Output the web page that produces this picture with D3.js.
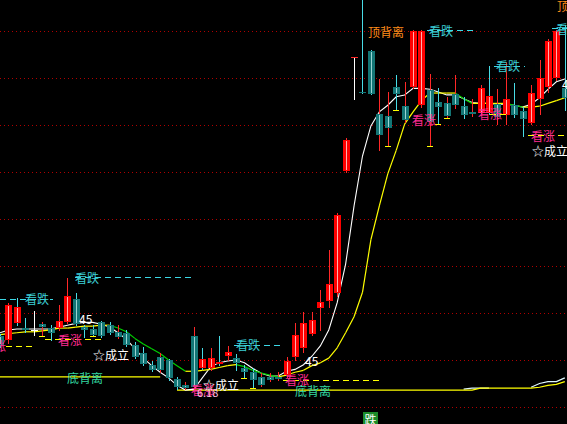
<!DOCTYPE html>
<html lang="zh">
<head>
<meta charset="UTF-8">
<title>K线 - 背离信号</title>
<script src="https://cdn.jsdelivr.net/npm/d3@7/dist/d3.min.js"></script>
<style>
  html, body { margin: 0; padding: 0; background: #000; }
  svg { display: block; }
</style>
</head>
<body>
<script>
  var width = 567, height = 424;

  // 日K: 开 / 高 / 低 / 收
  var open = [6.76, 6.71, 6.89, 6.84, 6.82, 6.88, 6.84, 6.84, 6.90, 7.15,
              6.85, 6.83, 6.90, 6.87, 6.80, 6.79, 6.66, 6.57, 6.45, 6.53,
              6.50, 6.30, 6.23, 6.76, 6.41, 6.41, 6.46, 6.54, 6.52, 6.41,
              6.37, 6.32, 6.32, 6.32, 6.34, 6.53, 6.63, 6.78, 7.05, 7.13,
              7.21, 8.51, 9.72, 9.35, 9.79, 9.12, 9.10, 9.40, 9.20, 9.40,
              9.21, 9.37, 9.24, 9.23, 9.33, 9.20, 9.14, 9.13, 9.13, 9.22,
              9.11, 9.21, 9.15, 9.02, 9.28, 9.40, 9.50, 9.39];
  var high = [6.78, 7.11, 7.16, 6.95, 7.02, 6.90, 6.87, 7.09, 7.37, 7.21,
              6.87, 6.87, 6.91, 6.90, 6.87, 6.82, 6.69, 6.64, 6.49, 6.57,
              6.51, 6.32, 6.27, 6.85, 6.63, 6.63, 6.76, 6.65, 6.56, 6.45,
              6.41, 6.36, 6.36, 6.37, 6.53, 6.89, 7.01, 7.01, 7.24, 7.67,
              8.06, 8.86, 9.72, 10.40, 9.80, 9.49, 9.35, 9.53, 9.46, 10.01,
              10.01, 9.54, 9.39, 9.30, 9.53, 9.30, 9.28, 9.43, 9.63, 9.38,
              9.67, 9.45, 9.19, 9.43, 9.69, 9.91, 10.01, 10.06];
  var low = [6.64, 6.68, 6.87, 6.80, 6.77, 6.76, 6.71, 6.82, 6.89, 6.87,
             6.74, 6.76, 6.75, 6.78, 6.73, 6.65, 6.52, 6.45, 6.38, 6.37,
             6.29, 6.19, 6.19, 6.18, 6.40, 6.39, 6.45, 6.50, 6.39, 6.31,
             6.20, 6.22, 6.28, 6.29, 6.32, 6.50, 6.59, 6.77, 6.82, 7.06,
             7.18, 8.50, 9.28, 9.34, 9.33, 8.73, 8.78, 9.16, 9.03, 9.39,
             9.19, 8.78, 9.01, 9.07, 9.18, 9.07, 9.10, 9.11, 9.12, 9.01,
             9.01, 9.09, 8.88, 9.01, 9.12, 9.35, 9.48, 9.16];
  var close = [6.66, 7.09, 7.06, 6.82, 6.82, 6.85, 6.79, 6.91, 7.18, 6.88,
               6.82, 6.77, 6.76, 6.79, 6.75, 6.66, 6.53, 6.46, 6.39, 6.39,
               6.31, 6.21, 6.20, 6.21, 6.51, 6.52, 6.48, 6.59, 6.47, 6.37,
               6.29, 6.23, 6.29, 6.30, 6.49, 6.77, 6.89, 6.93, 7.12, 7.31,
               8.04, 8.84, 9.72, 9.34, 9.33, 8.89, 8.97, 9.33, 9.05, 10.00,
               10.00, 9.03, 9.19, 9.10, 9.21, 9.11, 9.12, 9.39, 9.31, 9.09,
               9.28, 9.11, 9.06, 9.34, 9.50, 9.89, 10.00, 9.29];
  // 当日涨跌 (影线颜色): 1涨 -1跌 0平
  var dayChg = [-1, 1, -1, -1, 0, 1, -1, 1, 1, -1,
                -1, -1, -1, -1, 1, -1, -1, -1, -1, 1,
                -1, -1, 1, 1, -1, 1, -1, 1, -1, -1,
                -1, 1, 1, 1, 1, 1, 1, 1, 1, 1,
                1, 1, 1, -1, -1, 1, 1, -1, 1, 1,
                1, 1, -1, 1, 1, -1, 1, 1, -1, 1,
                1, -1, -1, 1, 1, 1, 1, -1];

  // 白线 (短均线)
  var maFast = [6.79, 6.82, 6.83, 6.83, 6.83, 6.83, 6.83, 6.85, 6.87, 6.89,
                6.90, 6.90, 6.88, 6.85, 6.79, 6.72, 6.62, 6.52, 6.44, 6.37,
                6.31, 6.23, 6.18, 6.19, 6.31, 6.43, 6.47, 6.49, 6.50, 6.47,
                6.41, 6.36, 6.33, 6.33, 6.38, 6.40, 6.45, 6.54, 6.65, 6.82,
                7.11, 7.52, 8.14, 8.67, 8.99, 9.14, 9.21, 9.30, 9.32, 9.39,
                9.39, 9.38, 9.35, 9.32, 9.32, 9.28, 9.24, 9.23, 9.23, 9.22,
                9.22, 9.21, 9.19, 9.22, 9.29, 9.38, 9.46, 9.49];
  // 黄线 (长均线, 下行时为绿)
  var maSlow = [6.77, 6.78, 6.79, 6.80, 6.80, 6.81, 6.82, 6.84, 6.84, 6.85,
                6.86, 6.86, 6.87, 6.87, 6.84, 6.80, 6.73, 6.67, 6.62, 6.57,
                6.50, 6.44, 6.38, 6.38, 6.39, 6.40, 6.42, 6.44, 6.45, 6.43,
                6.39, 6.36, 6.34, 6.32, 6.34, 6.37, 6.39, 6.44, 6.47, 6.52,
                6.63, 6.79, 6.96, 7.22, 7.78, 8.14, 8.48, 8.73, 9.01, 9.14,
                9.26, 9.34, 9.34, 9.34, 9.34, 9.28, 9.23, 9.23, 9.23, 9.23,
                9.23, 9.21, 9.19, 9.19, 9.20, 9.23, 9.26, 9.29];
  // 底部支撑线
  var supportY = [6.32, 6.32, 6.32, 6.32, 6.32, 6.32, 6.32, 6.32, 6.32, 6.32,
                  6.32, 6.32, 6.32, 6.32, 6.32, 6.32, 6.32, 6.32, 6.32, 6.32,
                  null, 6.18, 6.18, 6.18, 6.18, 6.18, 6.18, 6.18, 6.18, 6.18,
                  6.18, 6.18, 6.18, 6.18, 6.18, 6.18, 6.18, 6.18, 6.18, 6.18,
                  6.18, 6.18, 6.18, 6.18, 6.18, 6.18, 6.18, 6.18, 6.18, 6.18,
                  6.18, 6.18, 6.18, 6.18, 6.18, 6.18, 6.18, 6.20, 6.20, 6.20,
                  6.20, 6.20, 6.20, 6.20, 6.21, 6.23, 6.24, 6.27];
  var supportW = [[55, 6.19], [56, 6.20], [57, 6.20], [58, 6.20],
                  [63, 6.21], [64, 6.25], [65, 6.27], [66, 6.27], [67, 6.31]];

  var gridPrices = [6, 6.5, 7, 7.5, 8, 8.5, 9, 9.5, 10];

  // 信号标注: [位置, 价格, 虚线起, 虚线止]
  var bearTags = [[2.97, 7.15, 0, 6.3], [8.9, 7.38, 8.9, 23], [28.0, 6.66, 27.7, 33.5],
                  [50.9, 10.01, 50.65, 56.35], [58.85, 9.63, 58.6, 62.3], [65.95, 10.03, 65.5, 67.4]];
  var bullTags = [[-2.14, 6.65, 0.7, 4.15], [6.88, 6.72, 5.3, 12.45], [22.66, 6.19, null, null],
                  [33.8, 6.29, 33.57, 45.3], [48.87, 9.06, null, null], [56.7, 9.12, 58.1, 60.4],
                  [63.0, 8.89, 62.6, 67.4]];
  var okTags = [[11.03, 6.56], [24.08, 6.24], [63.1, 8.73]];
  var angleTags = [[9.37, 6.94], [36.18, 6.49], [66.67, 9.44]];
  var topDivTags = [[43.65, 9.99], [66.07, 10.27]];
  var botDivTags = [[7.95, 6.31], [35.0, 6.18]];
  var lowTicks = [5, 11, 29, 30, 46, 47, 51, 52, 53];
  var sellMarks = [44];

  var svg = d3.select("body").append("svg")
      .attr("width", width).attr("height", height)
      .style("background", "#000");

  var x = d3.scaleLinear().domain([0, 67]).range([0, 564.8]);
  var y = d3.scaleLinear().domain([6, 10]).range([407, 31]);
  var bw = 7;
  var font = "'Noto Sans CJK SC', sans-serif";

  function cx(i) { return Math.round(x(i)) + 0.5; }
  function cy(p) { return Math.round(y(p)) + 0.5; }

  // 网格
  svg.append("g").selectAll("line").data(gridPrices).enter().append("line")
      .attr("x1", 0).attr("x2", width)
      .attr("y1", cy).attr("y2", cy)
      .attr("stroke", "#b00000")
      .attr("stroke-dasharray", "1,3")
      .attr("shape-rendering", "crispEdges");

  // 底部线
  var wPts = new Array(open.length).fill(null);
  supportW.forEach(function(d) { wPts[d[0]] = d[1]; });
  var line = d3.line().defined(function(d) { return d != null; })
      .x(function(d, i) { return x(i); }).y(function(d) { return y(d); });
  svg.append("path").attr("d", line(wPts)).attr("fill", "none")
      .attr("stroke", "#dff8ff").attr("stroke-width", 1.2);
  svg.append("path").attr("d", line(supportY)).attr("fill", "none")
      .attr("stroke", "#ffff00").attr("stroke-width", 1.2);

  // 均线
  svg.append("path").attr("d", line(maFast)).attr("fill", "none")
      .attr("stroke", "#ffffff").attr("stroke-width", 1.1);
  svg.append("g").selectAll("line").data(d3.pairs(d3.range(maSlow.length))).enter().append("line")
      .attr("x1", function(d) { return x(d[0]); })
      .attr("x2", function(d) { return x(d[1]); })
      .attr("y1", function(d) { return y(maSlow[d[0]]); })
      .attr("y2", function(d) { return y(maSlow[d[1]]); })
      .attr("stroke", function(d) { return maSlow[d[1]] < maSlow[d[0]] ? "#00d000" : "#ffff00"; })
      .attr("stroke-width", 1.2);

  // K线
  var upBody = "#ff0000", dnBody = "#137676";
  var chgColor = { "1": "#ff2828", "-1": "#48dce6", "0": "#ffffff" };
  var k = svg.append("g").selectAll("g").data(d3.range(open.length)).enter().append("g");
  k.each(function(i) {
    var g = d3.select(this);
    var o = open[i], c = close[i];
    var doji = o === c;
    g.append("line")
        .attr("x1", cx(i)).attr("x2", cx(i))
        .attr("y1", Math.round(y(high[i]))).attr("y2", Math.round(y(low[i])) + 1)
        .attr("stroke", doji ? "#ffffff" : chgColor[dayChg[i]])
        .attr("shape-rendering", "crispEdges");
    if (doji) {
      g.append("line")
          .attr("x1", cx(i) - 3.5).attr("x2", cx(i) + 3.5)
          .attr("y1", cy(o)).attr("y2", cy(o))
          .attr("stroke", chgColor[dayChg[i]])
          .attr("shape-rendering", "crispEdges");
      return;
    }
    var top = Math.round(y(Math.max(o, c))), bot = Math.round(y(Math.min(o, c)));
    var h = Math.max(1, bot - top);
    g.append("rect")
        .attr("x", Math.round(x(i)) - 3).attr("y", top)
        .attr("width", bw).attr("height", h)
        .attr("fill", c > o ? upBody : dnBody)
        .attr("shape-rendering", "crispEdges");
    if (h > 2) {
      g.append("line")
          .attr("x1", cx(i)).attr("x2", cx(i))
          .attr("y1", top + 1).attr("y2", top + h - 1)
          .attr("stroke", c > o ? "#ffb0b0" : "#9ad4d4")
          .attr("shape-rendering", "crispEdges");
    }
  });

  // 低点标记
  svg.append("g").selectAll("line").data(lowTicks).enter().append("line")
      .attr("x1", function(i) { return Math.round(x(i)) - 3; })
      .attr("x2", function(i) { return Math.round(x(i)) + 3; })
      .attr("y1", function(i) { return cy(low[i]); })
      .attr("y2", function(i) { return cy(low[i]); })
      .attr("stroke", "#ffff00").attr("stroke-width", 1)
      .attr("shape-rendering", "crispEdges");

  function drawTags(list, label, color, dashColor) {
    var g = svg.append("g");
    g.selectAll("line").data(list.filter(function(d) { return d[2] != null; })).enter().append("line")
        .attr("x1", function(d) { return x(d[2]); })
        .attr("x2", function(d) { return x(d[3]); })
        .attr("y1", function(d) { return cy(d[1]); })
        .attr("y2", function(d) { return cy(d[1]); })
        .attr("stroke", dashColor || color)
        .attr("stroke-dasharray", "6,4")
        .attr("shape-rendering", "crispEdges");
    g.selectAll("text").data(list).enter().append("text")
        .attr("x", function(d) { return x(d[0]); })
        .attr("y", function(d) { return y(d[1]); })
        .attr("dominant-baseline", "central")
        .attr("font-family", font).attr("font-size", 12)
        .attr("fill", color)
        .text(label);
  }

  drawTags(bearTags, "看跌", "#3ccfd6", "#3cd8e6");
  drawTags(bullTags, "看涨", "#ff2a92", "#ffff00");
  drawTags(okTags, "☆成立", "#ffffff");
  drawTags(angleTags, "45", "#ffffff");
  drawTags(topDivTags, "顶背离", "#ff8c1a");
  drawTags(botDivTags, "底背离", "#33d8a0");

  // 最低价
  var iMin = d3.minIndex(low);
  svg.append("text")
      .attr("x", x(iMin) + 3).attr("y", y(low[iMin]) + 2)
      .attr("dominant-baseline", "central")
      .attr("font-family", font).attr("font-size", 11)
      .attr("fill", "#ffc0e0")
      .text(d3.format(".2f")(low[iMin]));

  // 卖出信号
  var s = svg.append("g").selectAll("g").data(sellMarks).enter().append("g");
  s.append("rect")
      .attr("x", function(i) { return Math.round(x(i)) - 8; })
      .attr("y", 412).attr("width", 15).attr("height", 14)
      .attr("fill", "#1c8c2a");
  s.append("text")
      .attr("x", function(i) { return Math.round(x(i)) - 0.5; })
      .attr("y", 419)
      .attr("text-anchor", "middle").attr("dominant-baseline", "central")
      .attr("font-family", font).attr("font-size", 12)
      .attr("fill", "#ffffff").text("跌");
</script>
</body>
</html>
